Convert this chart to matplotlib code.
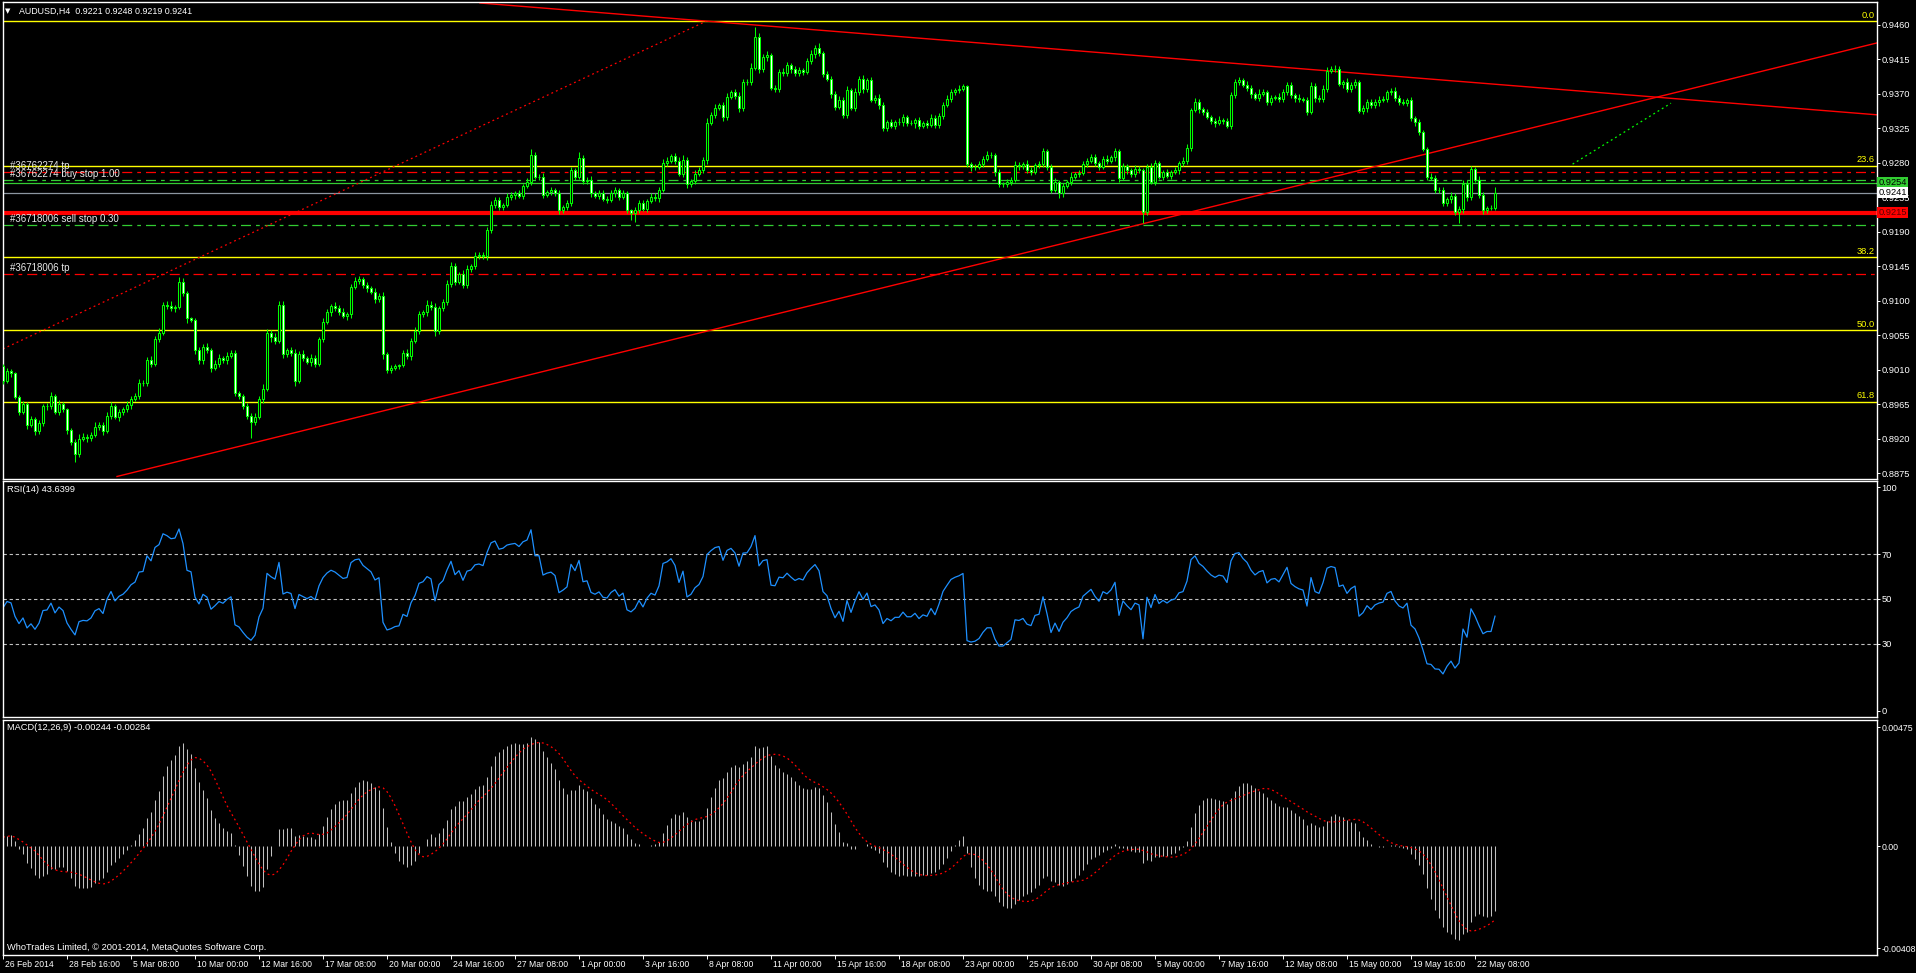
import numpy as np
import matplotlib
matplotlib.use('Agg')
import matplotlib.pyplot as plt
import matplotlib.transforms as mtransforms

plt.rcParams['font.family'] = ['Liberation Sans', 'DejaVu Sans']
plt.rcParams['font.size'] = 7

# AUDUSD H4 candles, prices in pips above 0.9000
BASE = 0.9
PIP = 0.0001
first_open = 15
close_pips = [
    -5, 8, 5, -26, -45, -35, -62, -55, -70, -60,
    -38, -37, -25, -45, -35, -42, -69, -85, -100, -80,
    -78, -79, -75, -65, -62, -70, -50, -38, -52, -45,
    -42, -36, -28, -24, -8, -7, 23, 18, 50, 58,
    95, 93, 90, 92, 125, 110, 77, 75, 35, 22,
    40, 35, 12, 18, 25, 22, 28, 32, -20, -25,
    -38, -50, -58, -52, -28, -15, 58, 52, 48, 95,
    30, 35, 32, -5, 30, 25, 20, 25, 18, 50,
    72, 85, 93, 90, 85, 80, 82, 118, 126, 128,
    120, 116, 112, 102, 106, 30, 10, 12, 15, 16,
    32, 28, 48, 60, 82, 85, 95, 92, 60, 90,
    98, 122, 145, 125, 135, 120, 142, 145, 158, 160,
    158, 192, 225, 232, 222, 225, 235, 238, 240, 237,
    250, 255, 290, 262, 262, 238, 242, 244, 240, 218,
    222, 227, 270, 262, 286, 256, 258, 240, 237, 241,
    233, 232, 240, 244, 236, 240, 218, 215, 219, 228,
    220, 230, 236, 234, 245, 280, 283, 289, 283, 266,
    284, 252, 256, 266, 271, 284, 332, 343, 352, 355,
    340, 366, 372, 367, 352, 385, 386, 404, 444, 402,
    418, 421, 378, 377, 398, 397, 408, 402, 397, 401,
    399, 413, 422, 430, 423, 396, 390, 370, 353, 362,
    343, 375, 352, 372, 390, 376, 388, 362, 365, 355,
    325, 333, 328, 333, 333, 340, 332, 332, 336, 328,
    332, 330, 338, 330, 341, 356, 364, 372, 375, 377,
    380, 278, 274, 275, 278, 285, 290, 290, 268, 252,
    252, 255, 258, 277, 276, 278, 270, 268, 277, 278,
    295, 275, 245, 255, 240, 250, 255, 262, 265, 267,
    279, 283, 287, 280, 275, 285, 283, 287, 295, 260,
    276, 270, 265, 272, 270, 216, 275, 255, 280, 262,
    268, 263, 268, 270, 280, 282, 300, 349, 360, 350,
    346, 340, 335, 332, 336, 335, 328, 368, 386, 388,
    382, 378, 370, 365, 370, 372, 360, 365, 366, 363,
    372, 382, 368, 365, 363, 362, 347, 380, 365, 363,
    377, 400, 403, 402, 383, 385, 376, 382, 385, 348,
    352, 360, 355, 360, 362, 363, 372, 374, 365, 360,
    358, 362, 338, 333, 320, 298, 262, 260, 245, 244,
    227, 233, 237, 216, 220, 252, 235, 272, 258, 238,
    218, 221, 221, 241,
]
# wick lengths in pips above / below the body
up_wick = [
    3, 4, 3, 2, 3, 4, 3, 5, 3, 4,  3, 4, 6, 3, 5, 3, 2, 3, 4, 6,
    5, 4, 3, 6, 4, 3, 5, 6, 3, 4,  3, 5, 4, 3, 6, 4, 3, 5, 4, 6,
    3, 4, 6, 3, 6, 4, 3, 2, 3, 4,  4, 5, 3, 4, 6, 3, 5, 4, 3, 2,
    3, 4, 3, 5, 4, 6, 5, 4, 6, 5,  4, 3, 4, 5, 4, 6, 3, 5, 4, 3,
    6, 4, 3, 5, 4, 6, 3, 4, 5, 4,  3, 4, 3, 5, 4, 5, 3, 4, 3, 2,
    4, 5, 3, 6, 4, 3, 6, 4, 5, 3,  4, 5, 6, 4, 3, 5, 4, 3, 5, 4,
    3, 4, 5, 3, 4, 3, 5, 4, 3, 4,  3, 5, 8, 4, 3, 5, 3, 4, 3, 4,
    3, 4, 5, 3, 8, 4, 3, 5, 3, 4,  3, 4, 5, 4, 3, 4, 3, 2, 3, 4,
    4, 3, 5, 4, 3, 5, 4, 3, 4, 5,  6, 4, 3, 5, 4, 3, 6, 4, 5, 3,
    4, 5, 3, 4, 5, 4, 3, 6, 14, 5,  4, 5, 3, 4, 5, 6, 4, 3, 5, 4,
    3, 4, 5, 4, 6, 3, 4, 3, 4, 5,  4, 5, 3, 6, 4, 5, 3, 4, 3, 5,
    4, 3, 4, 3, 5, 4, 3, 4, 3, 4,  3, 4, 6, 5, 4, 3, 4, 5, 3, 4,
    3, 2, 3, 4, 5, 4, 6, 4, 3, 4,  3, 4, 3, 5, 4, 3, 6, 4, 3, 4,
    4, 3, 4, 5, 3, 4, 3, 6, 3, 4,  4, 3, 5, 4, 3, 4, 5, 3, 4, 3,
    4, 3, 3, 5, 4, 3, 4, 5, 4, 3,  3, 4, 3, 4, 3, 5, 4, 3, 5, 4,
    3, 4, 3, 4, 5, 3, 4, 5, 3, 4,  3, 5, 4, 3, 6, 4, 3, 4, 3, 5,
    4, 3, 4, 3, 5, 3, 4, 6, 4, 3,  4, 5, 3, 5, 4, 3, 6, 4, 5, 3,
    4, 3, 4, 3, 5, 4, 3, 4, 5, 3,  4, 3, 4, 3, 4, 3, 3, 5, 4, 3,
    4, 3, 5, 4, 3, 6, 5, 4, 3, 5,  4, 3, 4, 7,
]
down_wick = [
    4, 3, 5, 3, 4, 3, 5, 3, 6, 4,  3, 5, 4, 3, 4, 3, 5, 3, 11, 4,
    3, 5, 4, 3, 4, 5, 3, 4, 3, 5,  4, 3, 5, 3, 4, 3, 5, 4, 3, 4,
    3, 4, 3, 5, 3, 4, 6, 3, 4, 5,  4, 3, 5, 3, 4, 3, 4, 3, 5, 4,
    3, 5, 21, 4, 3, 5, 3, 6, 4, 3,  5, 3, 4, 6, 3, 4, 3, 5, 4, 3,
    4, 3, 5, 3, 4, 3, 5, 4, 3, 4,  3, 4, 3, 5, 4, 6, 4, 5, 3, 4,
    3, 4, 5, 3, 4, 3, 5, 4, 6, 3,  4, 3, 4, 5, 3, 4, 3, 4, 3, 4,
    4, 5, 3, 4, 3, 4, 3, 4, 5, 3,  4, 3, 4, 3, 5, 4, 3, 4, 3, 5,
    4, 3, 4, 5, 3, 4, 3, 4, 3, 4,  3, 4, 3, 5, 4, 3, 4, 9, 12, 4,
    3, 4, 3, 4, 5, 3, 4, 3, 4, 3,  4, 5, 3, 4, 3, 4, 5, 3, 4, 3,
    5, 4, 3, 4, 5, 4, 3, 4, 3, 5,  4, 5, 3, 4, 5, 3, 4, 5, 3, 4,
    4, 3, 4, 5, 3, 4, 3, 5, 4, 3,  4, 5, 3, 4, 3, 5, 4, 3, 4, 5,
    3, 4, 3, 4, 3, 5, 4, 3, 6, 4,  3, 4, 3, 4, 5, 4, 3, 4, 3, 4,
    3, 4, 5, 4, 3, 4, 3, 4, 5, 3,  4, 3, 4, 3, 5, 4, 3, 4, 3, 4,
    3, 4, 5, 3, 6, 4, 3, 4, 3, 4,  3, 4, 3, 4, 5, 3, 4, 3, 4, 5,
    3, 4, 3, 4, 3, 14, 4, 3, 4, 3,  4, 3, 4, 3, 5, 4, 3, 4, 3, 5,
    4, 3, 4, 5, 3, 4, 3, 4, 3, 4,  3, 4, 5, 3, 4, 3, 4, 5, 3, 4,
    3, 4, 3, 5, 4, 3, 4, 3, 5, 4,  3, 4, 3, 4, 3, 5, 4, 3, 4, 3,
    4, 5, 3, 4, 6, 3, 4, 3, 4, 5,  3, 4, 3, 5, 4, 3, 4, 3, 5, 4,
    4, 3, 5, 4, 15, 6, 5, 4, 3, 4,  5, 4, 3, 2,
]

time_labels = ['26 Feb 2014', '28 Feb 16:00', '5 Mar 08:00', '10 Mar 00:00', '12 Mar 16:00',
               '17 Mar 08:00', '20 Mar 00:00', '24 Mar 16:00', '27 Mar 08:00', '1 Apr 00:00',
               '3 Apr 16:00', '8 Apr 08:00', '11 Apr 00:00', '15 Apr 16:00', '18 Apr 08:00',
               '23 Apr 00:00', '25 Apr 16:00', '30 Apr 08:00', '5 May 00:00', '7 May 16:00',
               '12 May 08:00', '15 May 00:00', '19 May 16:00', '22 May 08:00']
bars_per_label = 16

price_ticks = [0.8875, 0.8920, 0.8965, 0.9010, 0.9055, 0.9100, 0.9145, 0.9190,
               0.9235, 0.9280, 0.9325, 0.9370, 0.9415, 0.9460]

# fibonacci levels and order lines
fib_names = ['0.0', '23.6', '38.2', '50.0', '61.8']
fib_prices = [0.94648, 0.92761, 0.91570, 0.90618, 0.89679]
order_names = ['#36762274 tp', '#36762274 buy stop 1.00', '#36718006 sell stop 0.30', '#36718006 tp']
order_prices = [0.92679, 0.92578, 0.91988, 0.91348]
order_colors = ['#FF0000', '#32CD32', '#32CD32', '#FF0000']
ask_price = 0.9254
bid_price = 0.9241
red_level = 0.9215

# trend lines: (bar, price) end points
desc_line = [(119.25, 0.94887), (468.75, 0.93426)]
asc_line = [(28.5, 0.88705), (468.75, 0.94369)]
fib_base = [(0.0, 0.90371), (175.75, 0.94648)]
green_dots = [(392.4, 0.92783), (417.0, 0.93579)]

# indicator seeds read at the first bar
macd_seed = 0.0004
rsi_seed_move = 0.0009

close = BASE + np.array(close_pips) * PIP
opn = np.concatenate([[BASE + first_open * PIP], close[:-1]])
top = np.maximum(opn, close)
bot = np.minimum(opn, close)
high = top + np.array(up_wick) * PIP
low = bot - np.array(down_wick) * PIP
n = len(close)
idx = np.arange(n)


def ema(values, period, seed):
    k = 2.0 / (period + 1)
    out = np.empty(len(values))
    prev = seed
    for i, v in enumerate(values):
        prev = prev + k * (v - prev)
        out[i] = prev
    return out


macd = ema(close, 12, close[0] + macd_seed / 2) - ema(close, 26, close[0] - macd_seed / 2)
signal = np.array([macd[max(0, i - 8):i + 1].mean() for i in range(n)])

rsi = np.empty(n)
ag = al = rsi_seed_move
prev = opn[0]
for i in range(n):
    d = close[i] - prev
    prev = close[i]
    ag = (ag * 13 + max(d, 0)) / 14
    al = (al * 13 + max(-d, 0)) / 14
    rsi[i] = 100 - 100 / (1 + ag / al)

# ---- figure
W, H = 1916, 973
fig = plt.figure(figsize=(W / 100, H / 100), dpi=100, facecolor='black')
left = 3 / W
width = (1877 - 3) / W


def panel(y0, y1, ysize=6.7):
    a = fig.add_axes([left, 1 - y1 / H, width, (y1 - y0) / H], facecolor='black')
    for s in a.spines.values():
        s.set_color('white')
        s.set_linewidth(1)
    a.yaxis.tick_right()
    a.tick_params(axis='y', colors='white', direction='out', length=2, width=0.7, pad=1.2,
                  labelsize=ysize)
    a.tick_params(axis='x', bottom=False, labelbottom=False)
    a.set_xlim(0, 468.5)
    return a


ax = panel(2, 479)
ax_rsi = panel(481, 717)
ax_macd = panel(720, 955, ysize=6.3)

# main chart
ax.set_ylim(0.88672, 0.94900)
ax.set_yticks(price_ticks)
ax.set_yticklabels(['%.4f' % p for p in price_ticks])

for name, p in zip(fib_names, fib_prices):
    ax.axhline(p, color='#FFFF00', lw=1.0, zorder=1)
for p, c in zip(order_prices, order_colors):
    ax.axhline(p, color=c, lw=0.9, dashes=(8, 4, 3, 4), zorder=1)
ax.axhline(ask_price, color='#32CD32', lw=0.9, zorder=1)
ax.axhline(bid_price, color='#8C96A0', lw=0.9, zorder=1)
ax.axhline(red_level, color='#FF0000', lw=3.0, zorder=1)

ax.plot([p[0] for p in desc_line], [p[1] for p in desc_line], color='#FF0000', lw=1.0, zorder=2)
ax.plot([p[0] for p in asc_line], [p[1] for p in asc_line], color='#FF0000', lw=1.0, zorder=2)
ax.plot([p[0] for p in fib_base], [p[1] for p in fib_base], color='#FF0000', lw=0.9,
        dashes=(1.5, 2.5), zorder=2)
ax.plot([p[0] for p in green_dots], [p[1] for p in green_dots], color='#00FF00', lw=0.9,
        dashes=(1.5, 2.5), zorder=2)

ax.vlines(idx, low, high, color='#00FF00', lw=0.75, zorder=3)
bull = close >= opn
ax.bar(idx[bull], (close - opn)[bull], bottom=opn[bull], width=0.5, color='black',
       edgecolor='#00FF00', linewidth=0.75, zorder=4)
ax.bar(idx[~bull], (opn - close)[~bull], bottom=close[~bull], width=0.5, color='white',
       edgecolor='#00FF00', linewidth=0.75, zorder=4)

blend = mtransforms.blended_transform_factory(ax.transAxes, ax.transData)
for name, p in zip(fib_names, fib_prices):
    ax.text(0.9989, p + 0.00018, name, color='#FFFF00', ha='right', va='bottom',
            transform=blend, fontsize=6.7, zorder=6)
for name, p in zip(order_names, order_prices):
    ax.text(0.0035, p + 0.00010, name, color='#E8E8E8', ha='left', va='bottom',
            transform=blend, fontsize=7, zorder=6)

for p, fc, tc in [(ask_price, '#32CD32', 'black'), (bid_price, 'white', 'black'),
                  (red_level, '#FF0000', '#5A0000')]:
    ax.text(1.0008, p, '%.4f' % p, color=tc, ha='left', va='center', transform=blend,
            fontsize=6.7, clip_on=False, zorder=7,
            bbox=dict(boxstyle='square,pad=0.12', fc=fc, ec='none'))

ax.text(0.0012, 1 - 9 / 477, '\u25bc', color='white', fontsize=5, va='center',
        ha='left', transform=ax.transAxes, family='DejaVu Sans')
ax.text(0.0085, 1 - 9 / 477, 'AUDUSD,H4  0.9221 0.9248 0.9219 0.9241', color='white',
        fontsize=6.4, va='center', ha='left', transform=ax.transAxes)

# RSI
ax_rsi.set_ylim(-2.7, 102.7)
ax_rsi.set_yticks([100, 70, 50, 30, 0])
ax_rsi.set_yticklabels(['100', '70', '50', '30', '0'])
for lvl in [70, 50, 30]:
    ax_rsi.axhline(lvl, color='#C0C0C0', lw=0.8, dashes=(3, 2.5))
ax_rsi.plot(idx, rsi, color='#1E90FF', lw=0.9)
ax_rsi.text(0.0023, 1 - 8 / 236, 'RSI(14) 43.6399', color='white', fontsize=6.7,
            va='center', ha='left', transform=ax_rsi.transAxes)

# MACD
ax_macd.set_ylim(-0.00435, 0.00503)
ax_macd.set_yticks([0.00475, 0.0, -0.00408])
ax_macd.set_yticklabels(['0.00475', '0.00', '-0.00408'])
ax_macd.vlines(idx, 0, macd, color='#C0C0C0', lw=0.75)
ax_macd.plot(idx, signal, color='#FF0000', lw=0.9, dashes=(1.5, 2.5))
ax_macd.text(0.0023, 1 - 8 / 235, 'MACD(12,26,9) -0.00244 -0.00284', color='white',
             fontsize=6.7, va='center', ha='left', transform=ax_macd.transAxes)
ax_macd.text(0.0023, 7 / 235, 'WhoTrades Limited, \u00a9 2001-2014, MetaQuotes Software Corp.',
             color='white', fontsize=6.7, va='center', ha='left', transform=ax_macd.transAxes)

ax_macd.tick_params(axis='x', bottom=True, labelbottom=True, colors='white', direction='out',
                    length=3, width=0.7, pad=0.5, labelsize=6.2)
ax_macd.set_xticks([k * bars_per_label for k in range(len(time_labels))])
ax_macd.set_xticklabels(time_labels)
shift = mtransforms.ScaledTranslation(2 / 100, 0, fig.dpi_scale_trans)
for lab in ax_macd.get_xticklabels():
    lab.set_horizontalalignment('left')
    lab.set_transform(lab.get_transform() + shift)

fig.savefig('out.png', dpi=100, facecolor='black')
